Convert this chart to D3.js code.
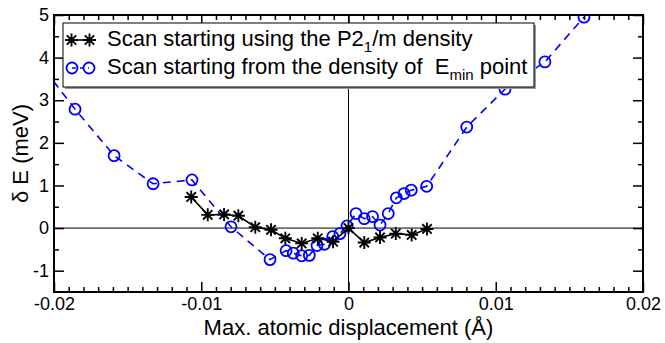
<!DOCTYPE html>
<html>
<head>
<meta charset="utf-8">
<script src="https://cdn.jsdelivr.net/npm/d3@7"></script>
<style>
  html, body { margin: 0; padding: 0; background: #fff; }
  svg { display: block; }
  text { font-family: "Liberation Sans", Arial, Helvetica, sans-serif; fill: #000; }
</style>
</head>
<body>
<div id="chart"></div>
<script>
// ---- Data ----
const starX = [-0.01068, -0.00956, -0.00845, -0.00748, -0.00633, -0.00526, -0.00429, -0.00318,
               -0.00209, -0.00105, 0.0, 0.00107, 0.00214, 0.00321, 0.00429, 0.00533];
const starY = [0.73, 0.31, 0.32, 0.29, 0.02, -0.04, -0.24, -0.36,
               -0.24, -0.32, 0.0, -0.34, -0.22, -0.13, -0.16, -0.02];

const circX = [-0.0212, -0.01857, -0.01592, -0.01327, -0.01063, -0.00798, -0.00533, -0.00424,
               -0.00375, -0.00318, -0.00266, -0.00214, -0.00163, -0.00107, -0.00058, -0.0001,
               0.00051, 0.00107, 0.00163, 0.00214, 0.0027, 0.00325, 0.00377, 0.00426,
               0.00531, 0.00803, 0.01063, 0.01334, 0.01599];
const circY = [3.97, 2.79, 1.70, 1.04, 1.13, 0.03, -0.74, -0.53,
               -0.59, -0.65, -0.64, -0.41, -0.38, -0.20, -0.13, 0.05,
               0.34, 0.22, 0.27, 0.07, 0.34, 0.71, 0.81, 0.89,
               0.98, 2.37, 3.26, 3.90, 4.95];

const xTicks = [-0.02, -0.01, 0, 0.01, 0.02];
const xTickLabels = ["-0.02", "-0.01", "0", "0.01", "0.02"];
const yTicks = [-1, 0, 1, 2, 3, 4, 5];
const yTickLabels = ["-1", "0", "1", "2", "3", "4", "5"];
const xDomain = [-0.02, 0.02];
const yDomain = [-1.5, 5];

const legendLabels = ["Scan starting using the P2", "Scan starting from the density of  E"];
const xTitle = "Max. atomic displacement (Å)";
const yTitle = "δ E (meV)";

// ---- Layout ----
const W = 665, H = 343;
const L = 54, R = 643, T = 15, B = 292;

const svg = d3.select("#chart").append("svg").attr("width", W).attr("height", H);

const x = d3.scaleLinear().domain(xDomain).range([L, R]);
const y = d3.scaleLinear().domain(yDomain).range([B, T]);

svg.append("defs").append("clipPath").attr("id", "clip")
  .append("rect").attr("x", L).attr("y", T).attr("width", R - L).attr("height", B - T);

// zero lines
svg.append("line").attr("x1", L).attr("x2", R).attr("y1", y(0)).attr("y2", y(0))
  .attr("stroke", "#000").attr("stroke-width", 1);
svg.append("line").attr("x1", x(0)).attr("x2", x(0)).attr("y1", T).attr("y2", B)
  .attr("stroke", "#000").attr("stroke-width", 1);

// minor tick values
const xMinor = d3.range(-20, 21).map(d => d / 1000).filter(v => !xTicks.some(t => Math.abs(t - v) < 1e-9));
const yMinor = d3.range(-3, 11).map(d => d / 2).filter(v => !yTicks.includes(v) && v > -1.5 && v < 5);

function styleAxis(g) {
  g.selectAll("path").remove();
  g.selectAll("line").attr("stroke", "#000").attr("stroke-width", 1.5);
  g.selectAll("text").style("font-size", "18px").attr("fill", "#000");
}

// bottom
svg.append("g").attr("transform", `translate(0,${B})`)
  .call(d3.axisBottom(x).tickValues(xTicks).tickFormat((d, i) => xTickLabels[i]).tickSize(-10).tickPadding(5))
  .call(styleAxis);
svg.append("g").attr("transform", `translate(0,${B})`)
  .call(d3.axisBottom(x).tickValues(xMinor).tickFormat("").tickSize(-5)).call(styleAxis);
// top
svg.append("g").attr("transform", `translate(0,${T})`)
  .call(d3.axisTop(x).tickValues(xTicks).tickFormat("").tickSize(-10)).call(styleAxis);
svg.append("g").attr("transform", `translate(0,${T})`)
  .call(d3.axisTop(x).tickValues(xMinor).tickFormat("").tickSize(-5)).call(styleAxis);
// left
svg.append("g").attr("transform", `translate(${L},0)`)
  .call(d3.axisLeft(y).tickValues(yTicks).tickFormat((d, i) => yTickLabels[i]).tickSize(-10).tickPadding(5))
  .call(styleAxis);
svg.append("g").attr("transform", `translate(${L},0)`)
  .call(d3.axisLeft(y).tickValues(yMinor).tickFormat("").tickSize(-5)).call(styleAxis);
// right
svg.append("g").attr("transform", `translate(${R},0)`)
  .call(d3.axisRight(y).tickValues(yTicks).tickFormat("").tickSize(-10)).call(styleAxis);
svg.append("g").attr("transform", `translate(${R},0)`)
  .call(d3.axisRight(y).tickValues(yMinor).tickFormat("").tickSize(-5)).call(styleAxis);

// frame
svg.append("rect").attr("x", L).attr("y", T).attr("width", R - L).attr("height", B - T)
  .attr("fill", "none").attr("stroke", "#000").attr("stroke-width", 2);

// data
const plot = svg.append("g").attr("clip-path", "url(#clip)");
const circData = circX.map((v, i) => [v, circY[i]]);
const starData = starX.map((v, i) => [v, starY[i]]);
const line = d3.line().x(d => x(d[0])).y(d => y(d[1]));

plot.append("path").datum(circData).attr("d", line).attr("fill", "none")
  .attr("stroke", "#0000ff").attr("stroke-width", 1.6).attr("stroke-dasharray", "8,6");
plot.append("path").datum(starData).attr("d", line).attr("fill", "none")
  .attr("stroke", "#000").attr("stroke-width", 1.6);

function drawCircle(g, cx, cy) {
  g.append("circle").attr("cx", cx).attr("cy", cy).attr("r", 5.5)
    .attr("fill", "none").attr("stroke", "#0000ff").attr("stroke-width", 1.8);
}
function drawStar(g, cx, cy) {
  const s = 6.5;
  const p = `M${cx - s},${cy}L${cx + s},${cy}M${cx},${cy - s}L${cx},${cy + s}` +
            `M${cx - s * 0.72},${cy - s * 0.72}L${cx + s * 0.72},${cy + s * 0.72}` +
            `M${cx - s * 0.72},${cy + s * 0.72}L${cx + s * 0.72},${cy - s * 0.72}`;
  g.append("path").attr("d", p).attr("stroke", "#000").attr("stroke-width", 1.9).attr("fill", "none");
}
circData.forEach(d => drawCircle(plot, x(d[0]), y(d[1])));
starData.forEach(d => drawStar(plot, x(d[0]), y(d[1])));

// legend
const lg = svg.append("g");
const lx = 63, ly = 23, lw = 471, lh = 64;
lg.append("rect").attr("x", lx + 2).attr("y", ly + 2).attr("width", lw).attr("height", lh).attr("fill", "#999");
lg.append("rect").attr("x", lx).attr("y", ly).attr("width", lw).attr("height", lh)
  .attr("fill", "#fff").attr("stroke", "#000").attr("stroke-width", 1);

const r1 = 40, r2 = 68;
lg.append("line").attr("x1", 71).attr("x2", 90).attr("y1", r1).attr("y2", r1).attr("stroke", "#000").attr("stroke-width", 1.6);
drawStar(lg, 71.5, r1); drawStar(lg, 89.5, r1);
lg.append("line").attr("x1", 72).attr("x2", 89).attr("y1", r2).attr("y2", r2).attr("stroke", "#0000ff")
  .attr("stroke-width", 1.6).attr("stroke-dasharray", "4,4");
drawCircle(lg, 72, r2); drawCircle(lg, 89, r2);

const fs = 22;
const t1 = lg.append("text").attr("x", 107).attr("y", 46).style("font-size", fs + "px");
t1.append("tspan").text(legendLabels[0]);
t1.append("tspan").attr("dy", 6).style("font-size", "15px").text("1");
t1.append("tspan").attr("dy", -6).text("/m density");

const t2 = lg.append("text").attr("x", 107).attr("y", 74).style("font-size", fs + "px").attr("xml:space", "preserve");
t2.append("tspan").text(legendLabels[1]);
t2.append("tspan").attr("dy", 6).style("font-size", "15px").text("min");
t2.append("tspan").attr("dy", -6).text(" point");

// axis titles
svg.append("text").attr("x", (L + R) / 2).attr("y", 335).attr("text-anchor", "middle")
  .style("font-size", "22px").text(xTitle);
svg.append("text").attr("transform", `translate(28,${(T + B) / 2}) rotate(-90)`)
  .attr("text-anchor", "middle").style("font-size", "22px").text(yTitle);
</script>
</body>
</html>
